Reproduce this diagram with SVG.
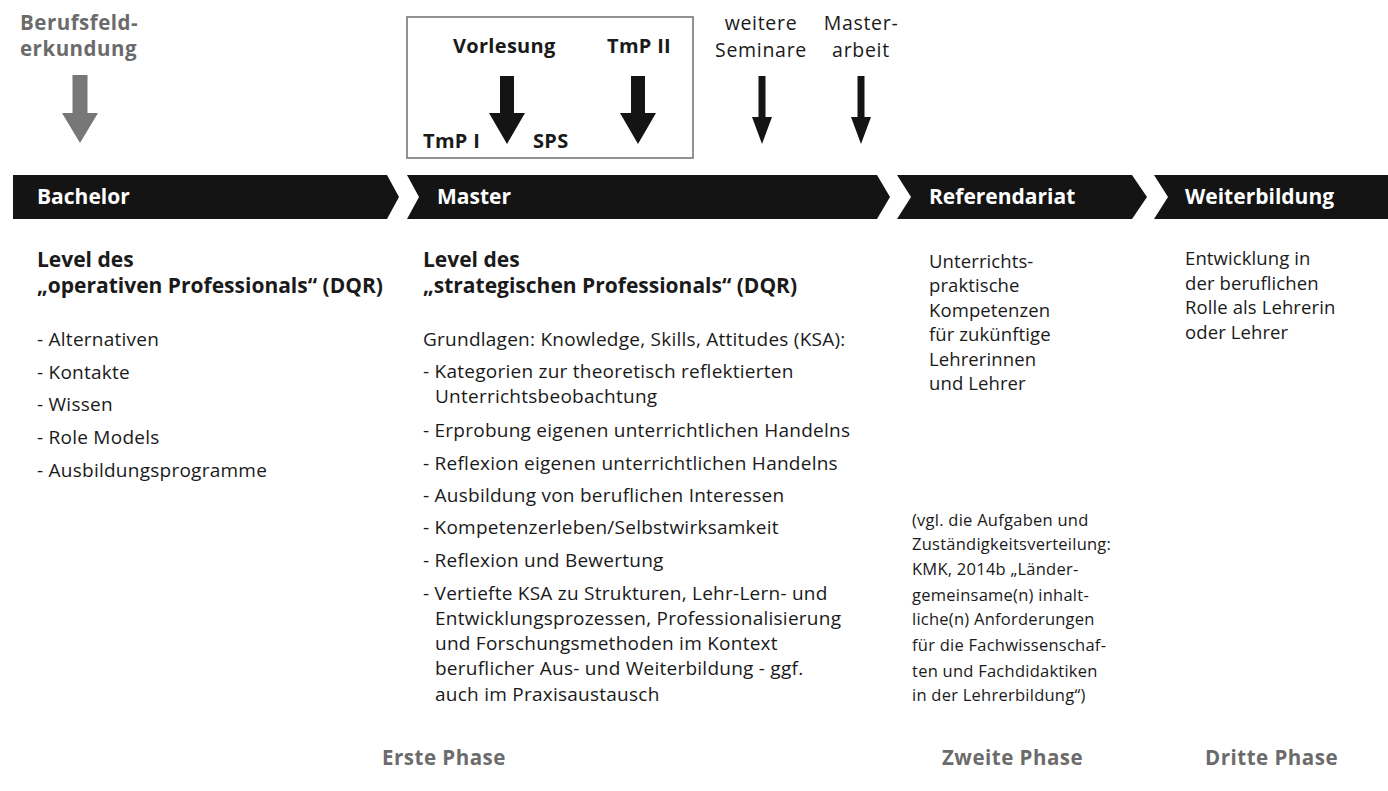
<svg xmlns="http://www.w3.org/2000/svg" width="1388" height="791" viewBox="0 0 1388 791">
<style>
text{font-family:"Open Sans","Noto Sans","Liberation Sans",sans-serif;fill:#1a1a1a}
.band{fill:#141414}
.bl{font-weight:700;font-size:21px;fill:#ffffff}
.top{font-weight:700;font-size:20px;letter-spacing:0.3px}
.topr{font-size:19.5px;letter-spacing:0.7px}
.gray{font-weight:700;font-size:20.5px;letter-spacing:0.5px;fill:#6b6b6b}
.h{font-weight:700;font-size:21px}
.t{font-size:19px;letter-spacing:0.25px}
.s{font-size:16.5px;letter-spacing:0.25px}
.r{font-size:18.5px;letter-spacing:0.1px}
.ar{fill:#141414}
.arg{fill:#777777}
</style>
<rect width="1388" height="791" fill="#ffffff"/>

<g id="banner-bachelor">
<polygon class="band" points="13,175 387,175 399,197 387,219 13,219"/>
<text class="bl" x="37" y="204">Bachelor</text>
</g>
<g id="banner-master">
<polygon class="band" points="407,175 877,175 890,197 877,219 407,219 419,197"/>
<text class="bl" x="437" y="204">Master</text>
</g>
<g id="banner-referendariat">
<polygon class="band" points="897,175 1132,175 1147,197 1132,219 897,219 911,197"/>
<text class="bl" x="929" y="204">Referendariat</text>
</g>
<g id="banner-weiterbildung">
<polygon class="band" points="1154,175 1388,175 1388,219 1154,219 1168,197"/>
<text class="bl" x="1185" y="204">Weiterbildung</text>
</g>

<g id="berufsfeld">
<text class="gray" x="20" y="30">Berufsfeld-</text>
<text class="gray" x="20" y="56">erkundung</text>
</g>

<g id="master-box">
<rect x="407" y="17" width="286" height="141" fill="none" stroke="#777777" stroke-width="1.6"/>
<text class="top" x="453" y="53">Vorlesung</text>
<text class="top" x="607" y="53">TmP II</text>
<text class="top" x="423" y="148">TmP I</text>
<text class="top" x="533" y="148">SPS</text>
</g>

<g id="seminare">
<text class="topr" x="761" y="30" text-anchor="middle">weitere</text>
<text class="topr" x="761" y="57" text-anchor="middle">Seminare</text>
</g>
<g id="masterarbeit">
<text class="topr" x="861" y="30" text-anchor="middle">Master-</text>
<text class="topr" x="861" y="57" text-anchor="middle">arbeit</text>
</g>

<g id="connectors">
<polygon class="arg" points="72.5,75 87.5,75 87.5,113 98,113 80,143 62,113 72.5,113"/>
<polygon class="ar" points="500,76 514,76 514,113 525,113 507,144 489,113 500,113"/>
<polygon class="ar" points="631,76 645,76 645,113 656,113 638,144 620,113 631,113"/>
<polygon class="ar" points="758.5,76 765.5,76 765.5,117 772,117 762,144 752,117 758.5,117"/>
<polygon class="ar" points="857.5,76 864.5,76 864.5,117 871,117 861,144 851,117 857.5,117"/>
</g>

<g id="bachelor-content">
<text class="h" x="37" y="267">Level des</text>
<text class="h" x="37" y="293">„operativen Professionals“ (DQR)</text>
<text class="t" x="37" y="346">- Alternativen</text>
<text class="t" x="37" y="379">- Kontakte</text>
<text class="t" x="37" y="411">- Wissen</text>
<text class="t" x="37" y="444">- Role Models</text>
<text class="t" x="37" y="477">- Ausbildungsprogramme</text>
</g>

<g id="master-content">
<text class="h" x="423" y="267">Level des</text>
<text class="h" x="423" y="293">„strategischen Professionals“ (DQR)</text>
<text class="t" x="423" y="346">Grundlagen: Knowledge, Skills, Attitudes (KSA):</text>
<text class="t" x="423" y="378">- Kategorien zur theoretisch reflektierten</text>
<text class="t" x="435" y="403">Unterrichtsbeobachtung</text>
<text class="t" x="423" y="437">- Erprobung eigenen unterrichtlichen Handelns</text>
<text class="t" x="423" y="470">- Reflexion eigenen unterrichtlichen Handelns</text>
<text class="t" x="423" y="502">- Ausbildung von beruflichen Interessen</text>
<text class="t" x="423" y="534">- Kompetenzerleben/Selbstwirksamkeit</text>
<text class="t" x="423" y="567">- Reflexion und Bewertung</text>
<text class="t" x="423" y="600">- Vertiefte KSA zu Strukturen, Lehr-Lern- und</text>
<text class="t" x="435" y="625">Entwicklungsprozessen, Professionalisierung</text>
<text class="t" x="435" y="650">und Forschungsmethoden im Kontext</text>
<text class="t" x="435" y="675">beruflicher Aus- und Weiterbildung - ggf.</text>
<text class="t" x="435" y="701">auch im Praxisaustausch</text>
</g>

<g id="referendariat-content">
<text class="r" x="929" y="268">Unterrichts-</text>
<text class="r" x="929" y="292">praktische</text>
<text class="r" x="929" y="317">Kompetenzen</text>
<text class="r" x="929" y="341">für zukünftige</text>
<text class="r" x="929" y="366">Lehrerinnen</text>
<text class="r" x="929" y="390">und Lehrer</text>
</g>

<g id="referendariat-note">
<text class="s" x="912" y="526">(vgl. die Aufgaben und</text>
<text class="s" x="912" y="550">Zuständigkeitsverteilung:</text>
<text class="s" x="912" y="575">KMK, 2014b „Länder-</text>
<text class="s" x="912" y="601">gemeinsame(n) inhalt-</text>
<text class="s" x="912" y="625">liche(n) Anforderungen</text>
<text class="s" x="912" y="651">für die Fachwissenschaf-</text>
<text class="s" x="912" y="677">ten und Fachdidaktiken</text>
<text class="s" x="912" y="701">in der Lehrerbildung“)</text>
</g>

<g id="weiterbildung-content">
<text class="r" x="1185" y="265">Entwicklung in</text>
<text class="r" x="1185" y="290">der beruflichen</text>
<text class="r" x="1185" y="314">Rolle als Lehrerin</text>
<text class="r" x="1185" y="339">oder Lehrer</text>
</g>

<g id="phases">
<text class="gray" x="382" y="765">Erste Phase</text>
<text class="gray" x="942" y="765">Zweite Phase</text>
<text class="gray" x="1205" y="765">Dritte Phase</text>
</g>
</svg>
